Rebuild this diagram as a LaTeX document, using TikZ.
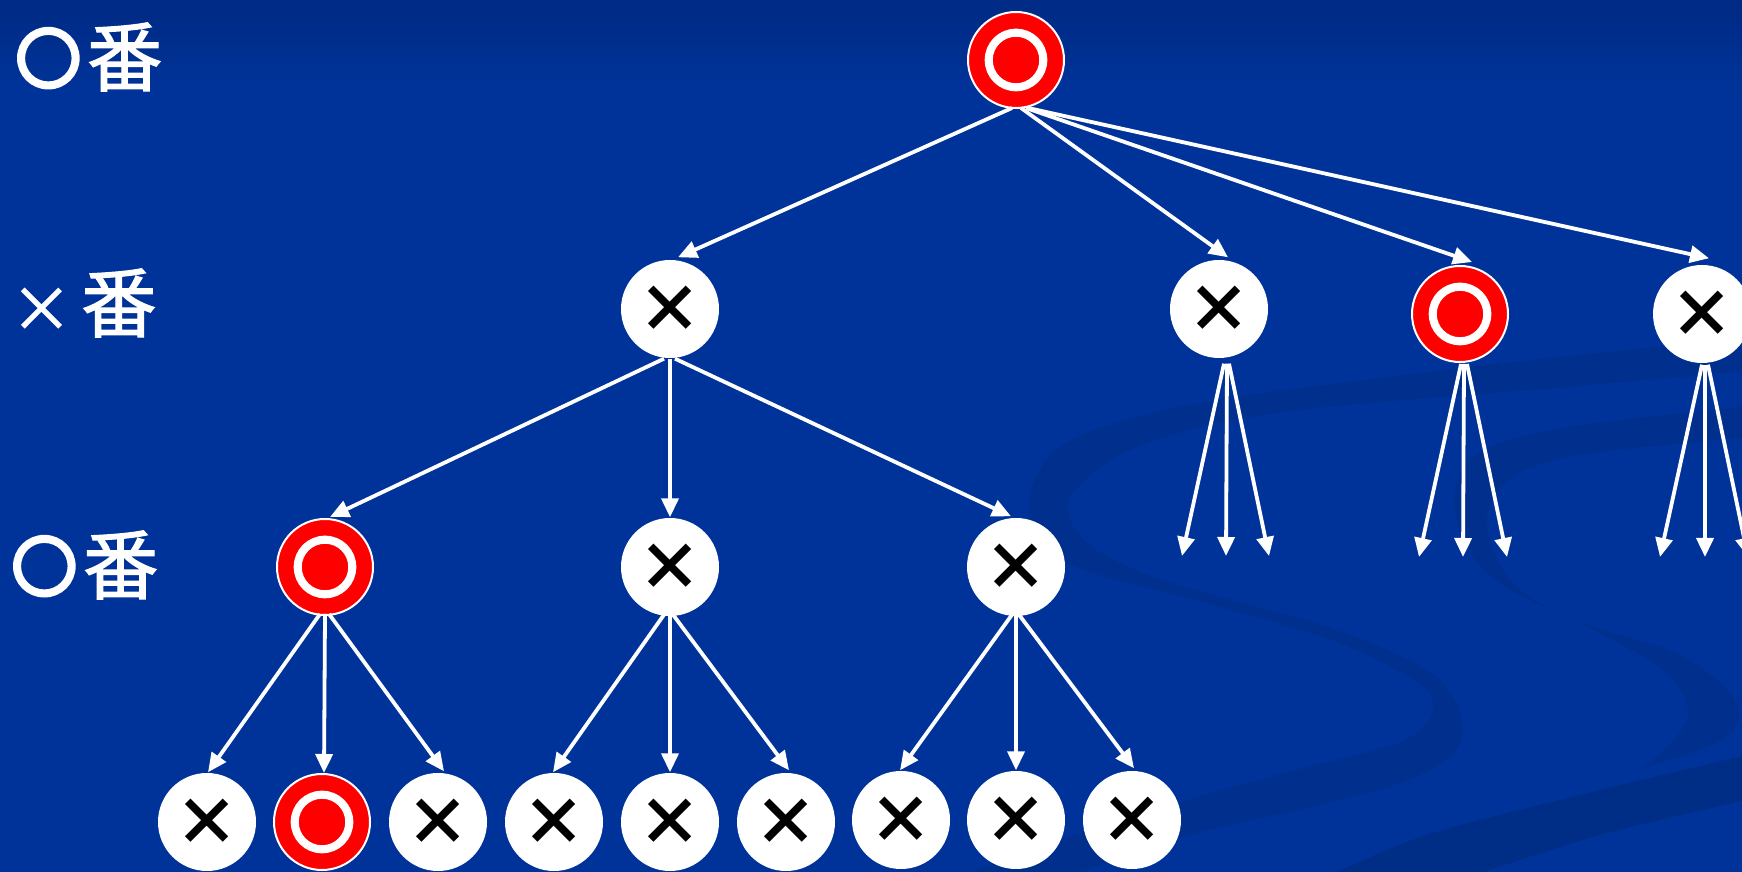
\documentclass[tikz,border=0pt]{standalone}
\usepackage{fontspec}
\newfontfamily\cjk{Noto Sans CJK JP}
\newfontfamily\cjkm[FakeBold=1.6]{Noto Sans CJK JP}
\newfontfamily\cjkring[FakeBold=9]{Noto Sans CJK JP}
\usetikzlibrary{arrows.meta,calc}
\definecolor{bgblue}{RGB}{0,51,153}
\definecolor{bgtop}{RGB}{0,42,132}
\definecolor{swirl}{RGB}{0,47,141}
\definecolor{swirldark}{RGB}{0,45,134}
\definecolor{mred}{RGB}{255,0,0}
\newcommand{\ringsym}{{\cjkring\fontsize{18}{18}\selectfont\raisebox{0.3mm}{○}}}
\begin{document}
\begin{tikzpicture}[x=0.1mm,y=-0.1mm,
  xnode/.style={circle,fill=white,minimum size=9.8mm,inner sep=-0.6mm,text=black,font=\cjk\bfseries\fontsize{18.5}{18.5}\selectfont},
  onode/.style={circle,fill=mred,draw=white,line width=0.2mm,minimum size=9.6mm,inner sep=-0.8mm,text=white,font=\cjkring\fontsize{18}{18}\selectfont},
  edge/.style={white,line width=0.38mm,-{Triangle[width=1.7mm,length=1.9mm]}},
  lbl/.style={anchor=west,text=white,inner sep=0pt,font=\cjkm\fontsize{21.5}{21.5}\selectfont}]
\clip (0,0) rectangle (1742,872);
% background
\fill[bgblue] (0,0) rectangle (1742,872);
\shade[top color=bgtop,bottom color=bgblue] (0,0) rectangle (1742,90);
% swirls
\fill[swirl] plot[smooth,tension=0.6] coordinates {(1760,337) (1568,356) (1379,378) (1189,405) (1071,440) (1035,480) (1030,517) (1048,550) (1090,572) (1213,605) (1331,640) (1410,678) (1433,705) (1405,740) (1284,773) (1180,802) (1060,840) (950,880)}
  -- plot[smooth,tension=0.6] coordinates {(1060,880) (1189,835) (1308,808) (1400,783) (1452,755) (1462,720) (1430,672) (1331,628) (1213,595) (1140,572) (1090,545) (1069,515) (1080,485) (1142,445) (1284,412) (1568,387) (1760,370)} -- cycle;
\fill[swirl] plot[smooth,tension=0.6] coordinates {(1760,405) (1568,427) (1480,452) (1455,490) (1462,535) (1495,580) (1580,622) (1680,655) (1735,700) (1725,738) (1643,768)}
  -- plot[smooth,tension=0.6] coordinates {(1662,752) (1688,715) (1665,672) (1590,628) (1520,590) (1490,540) (1492,500) (1525,470) (1600,452) (1760,437)} -- cycle;
\fill[swirldark] plot[smooth,tension=0.5] coordinates {(1320,880) (1426,835) (1600,790) (1760,752)}
  -- plot[smooth,tension=0.5] coordinates {(1760,797) (1600,835) (1460,880)} -- cycle;
% labels
\node[lbl] (l1) at (16,57) {\ringsym\hspace{0.7mm}番};
\node[lbl] (l2) at (10,303) {{\fontsize{17.5}{17.5}\selectfont ×}\hspace{-0.8mm} 番};
\node[lbl] (l3) at (12,565) {\ringsym\hspace{0.7mm}番};
% nodes
\node[onode] (r) at (1016,60) {○};
\node[xnode] (a) at (670,309) {×};
\node[xnode] (b) at (1219,309) {×};
\node[onode] (c) at (1460,314) {○};
\node[xnode] (d) at (1702,314) {×};
\node[onode] (e) at (325,567) {○};
\node[xnode] (f) at (670,567) {×};
\node[xnode] (g) at (1016,567) {×};
\node[xnode] (h1) at (207,822) {×};
\node[onode] (h2) at (322,822) {○};
\node[xnode] (h3) at (438,822) {×};
\node[xnode] (h4) at (554,822) {×};
\node[xnode] (h5) at (670,822) {×};
\node[xnode] (h6) at (786,822) {×};
\node[xnode] (h7) at (901,820) {×};
\node[xnode] (h8) at (1016,820) {×};
\node[xnode] (h9) at (1132,820) {×};
% free ends
\coordinate (b1) at (1182,556);
\coordinate (b2) at (1226,556);
\coordinate (b3) at (1269,556);
\coordinate (c1) at (1419,557);
\coordinate (c2) at (1463,557);
\coordinate (c3) at (1507,557);
\coordinate (d1) at (1660,557);
\coordinate (d2) at (1705,557);
\coordinate (d3) at (1748,557);
% edges from root
\draw[edge] ($(r.south)+(-4,-1)$) -- ($(a.north)+(8,-2)$);
\draw[edge] ($(r.south)+(5,-1)$) -- ($(b.north)+(9,-2)$);
\draw[edge] ($(r.south)+(10,-1)$) -- ($(c.north)+(12,-3)$);
\draw[edge] ($(r.south)+(12,-1)$) -- ($(d.north)+(7,-6)$);
% edges from a
\draw[edge] ($(a.south)+(-6,0)$) -- ($(e.north)+(5,-1)$);
\draw[edge] ($(a.south)+(0,0)$) -- (f.north);
\draw[edge] ($(a.south)+(5,0)$) -- ($(g.north)+(-5,-1)$);
% fans
\draw[edge] ($(b.south)+(5,5)$) -- (b1);
\draw[edge] ($(b.south)+(8,5)$) -- (b2);
\draw[edge] ($(b.south)+(10,5)$) -- (b3);
\draw[edge] ($(c.south)+(1,1)$) -- (c1);
\draw[edge] ($(c.south)+(4,1)$) -- (c2);
\draw[edge] ($(c.south)+(7,1)$) -- (c3);
\draw[edge] ($(d.south)+(0,1)$) -- (d1);
\draw[edge] ($(d.south)+(3,1)$) -- (d2);
\draw[edge] ($(d.south)+(6,1)$) -- (d3);
% level 2 to 3
\draw[edge] ($(e.south)+(-5,-2)$) -- ($(h1.north)+(1,0)$);
\draw[edge] ($(e.south)+(0,-2)$) -- ($(h2.north)+(2,0)$);
\draw[edge] ($(e.south)+(4,-2)$) -- ($(h3.north)+(6,-1)$);
\draw[edge] ($(f.south)+(-6,-2)$) -- ($(h4.north)+(-1,0)$);
\draw[edge] ($(f.south)+(0,-2)$) -- (h5.north);
\draw[edge] ($(f.south)+(3,-2)$) -- ($(h6.north)+(3,-2)$);
\draw[edge] ($(g.south)+(-4,-2)$) -- ($(h7.north)+(-1,0)$);
\draw[edge] ($(g.south)+(0,-2)$) -- (h8.north);
\draw[edge] ($(g.south)+(3,-2)$) -- ($(h9.north)+(2,-2)$);
\end{tikzpicture}
\end{document}
